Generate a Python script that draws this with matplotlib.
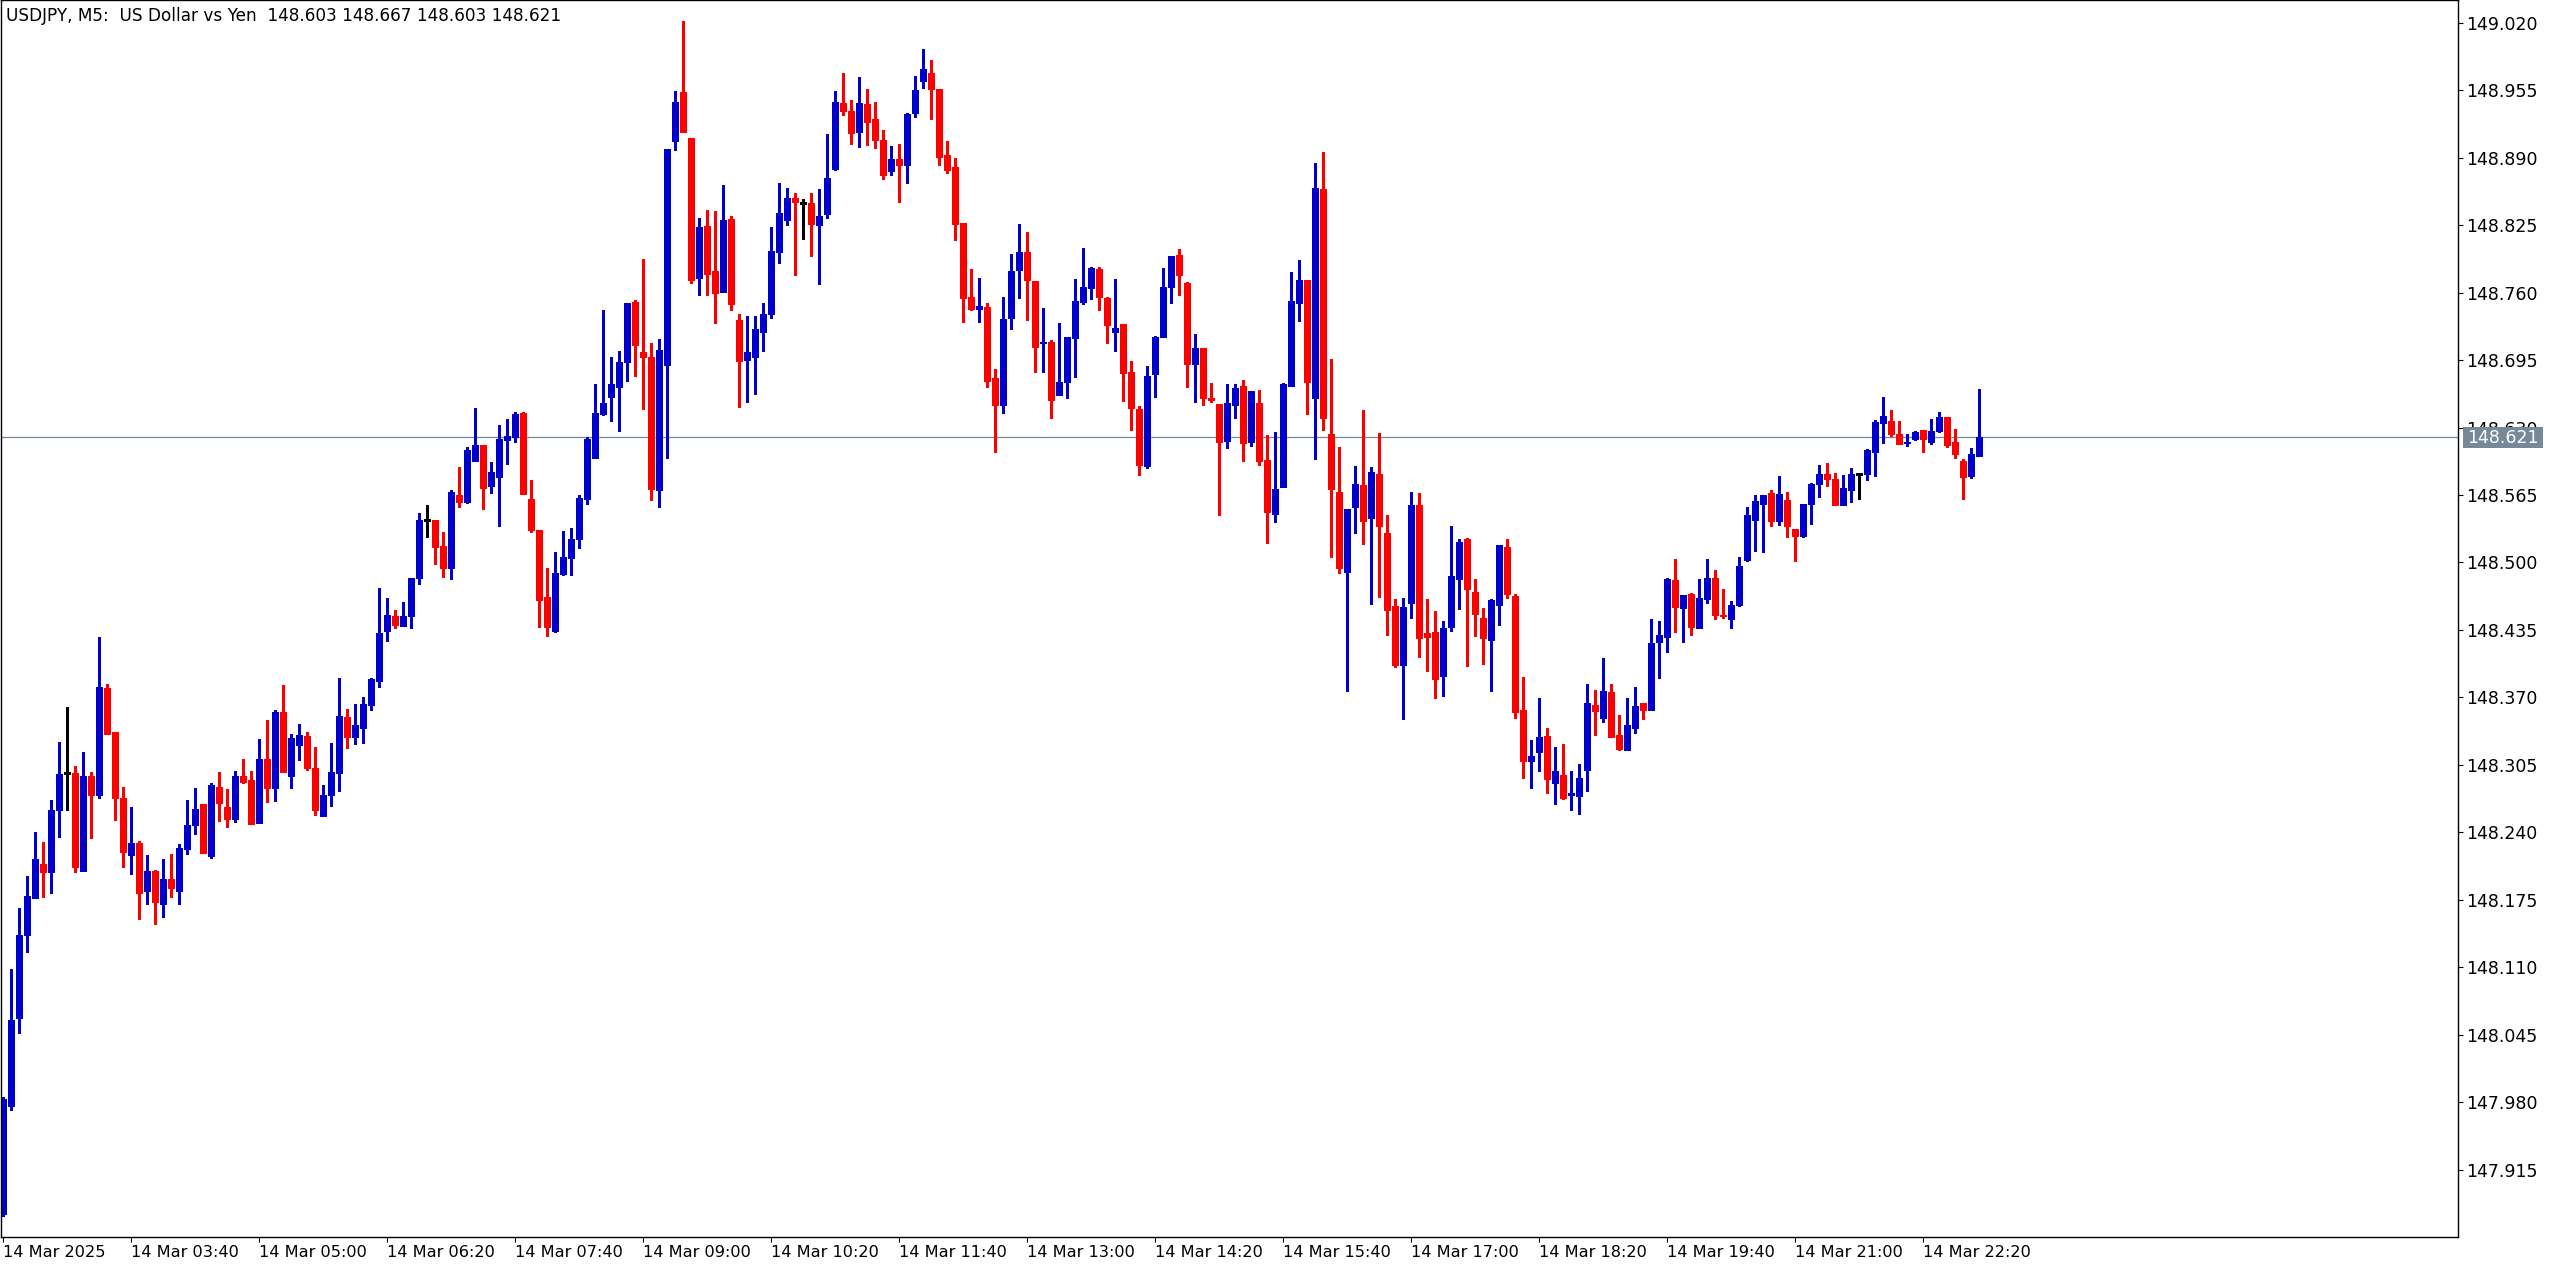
import numpy as np
import matplotlib
matplotlib.use("Agg")
import matplotlib.pyplot as plt
from matplotlib.patches import Rectangle

# USDJPY M5 candles, 14 Mar 2025 02:20 .. 22:55
opens = [
    147.872, 147.976, 148.061, 148.141, 148.177, 148.210, 148.202, 148.262, 148.297, 148.297,
    148.203, 148.294, 148.276, 148.379, 148.337, 148.273, 148.218, 148.230, 148.184, 148.203,
    148.171, 148.195, 148.184, 148.224, 148.247, 148.267, 148.217, 148.284, 148.264, 148.253,
    148.294, 148.290, 148.249, 148.311, 148.283, 148.356, 148.294, 148.324, 148.333, 148.302,
    148.256, 148.276, 148.297, 148.351, 148.332, 148.341, 148.363, 148.386, 148.434, 148.448,
    148.439, 148.448, 148.485, 148.541, 148.541, 148.516, 148.495, 148.565, 148.558, 148.598,
    148.613, 148.574, 148.582, 148.618, 148.621, 148.644, 148.561, 148.531, 148.467, 148.434,
    148.489, 148.504, 148.523, 148.561, 148.601, 148.643, 148.659, 148.669, 148.693, 148.751,
    148.703, 148.698, 148.570, 148.690, 148.906, 148.953, 148.909, 148.774, 148.824, 148.781,
    148.761, 148.831, 148.734, 148.695, 148.698, 148.722, 148.739, 148.799, 148.830, 148.851,
    148.846, 148.846, 148.825, 148.836, 148.879, 148.943, 148.935, 148.915, 148.942, 148.927,
    148.907, 148.877, 148.889, 148.883, 148.933, 148.964, 148.972, 148.956, 148.893, 148.881,
    148.827, 148.756, 148.744, 148.746, 148.678, 148.652, 148.736, 148.782, 148.799, 148.771,
    148.711, 148.712, 148.661, 148.674, 148.716, 148.751, 148.764, 148.783, 148.755, 148.722,
    148.730, 148.684, 148.648, 148.593, 148.682, 148.717, 148.765, 148.796, 148.769, 148.691,
    148.707, 148.658, 148.653, 148.617, 148.652, 148.670, 148.616, 148.654, 148.599, 148.547,
    148.573, 148.670, 148.750, 148.772, 148.658, 148.860, 148.624, 148.568, 148.491, 148.553,
    148.575, 148.543, 148.585, 148.528, 148.458, 148.401, 148.461, 148.555, 148.432, 148.433,
    148.391, 148.438, 148.484, 148.523, 148.472, 148.447, 148.425, 148.459, 148.515, 148.468,
    148.358, 148.309, 148.317, 148.333, 148.288, 148.295, 148.276, 148.275, 148.300, 148.363,
    148.350, 148.375, 148.334, 148.319, 148.341, 148.365, 148.358, 148.423, 148.428, 148.483,
    148.456, 148.470, 148.437, 148.465, 148.485, 148.449, 148.446, 148.459, 148.502, 148.541,
    148.556, 148.567, 148.540, 148.560, 148.532, 148.526, 148.556, 148.576, 148.585, 148.580,
    148.555, 148.570, 148.585, 148.585, 148.606, 148.634, 148.636, 148.624, 148.615, 148.619,
    148.628, 148.616, 148.627, 148.640, 148.616, 148.598, 148.583, 148.603,
]
highs = [
    147.985, 148.108, 148.167, 148.198, 148.240, 148.231, 148.271, 148.327, 148.361, 148.304,
    148.317, 148.298, 148.428, 148.383, 148.337, 148.284, 148.264, 148.232, 148.218, 148.204,
    148.214, 148.219, 148.229, 148.271, 148.283, 148.267, 148.288, 148.298, 148.282, 148.299,
    148.311, 148.299, 148.330, 148.348, 148.358, 148.382, 148.335, 148.344, 148.337, 148.322,
    148.286, 148.326, 148.389, 148.359, 148.364, 148.370, 148.389, 148.475, 148.466, 148.454,
    148.462, 148.485, 148.548, 148.555, 148.541, 148.529, 148.570, 148.592, 148.611, 148.649,
    148.613, 148.597, 148.632, 148.638, 148.645, 148.645, 148.579, 148.531, 148.495, 148.510,
    148.530, 148.533, 148.565, 148.621, 148.672, 148.743, 148.698, 148.704, 148.750, 148.753,
    148.792, 148.711, 148.715, 148.898, 148.954, 149.022, 148.909, 148.832, 148.840, 148.839,
    148.864, 148.834, 148.739, 148.737, 148.737, 148.750, 148.823, 148.866, 148.861, 148.856,
    148.850, 148.856, 148.860, 148.913, 148.954, 148.972, 148.946, 148.968, 148.956, 148.944,
    148.917, 148.901, 148.903, 148.933, 148.969, 148.995, 148.984, 148.956, 148.906, 148.890,
    148.827, 148.783, 148.774, 148.750, 148.686, 148.756, 148.797, 148.826, 148.818, 148.771,
    148.745, 148.714, 148.731, 148.717, 148.773, 148.803, 148.785, 148.785, 148.756, 148.773,
    148.730, 148.694, 148.651, 148.689, 148.718, 148.784, 148.795, 148.802, 148.770, 148.720,
    148.707, 148.673, 148.653, 148.672, 148.672, 148.676, 148.665, 148.666, 148.623, 148.626,
    148.673, 148.780, 148.791, 148.772, 148.885, 148.895, 148.696, 148.611, 148.552, 148.593,
    148.647, 148.592, 148.625, 148.546, 148.465, 148.466, 148.568, 148.567, 148.465, 148.453,
    148.444, 148.535, 148.523, 148.524, 148.484, 148.456, 148.465, 148.517, 148.523, 148.470,
    148.390, 148.329, 148.369, 148.341, 148.322, 148.325, 148.299, 148.306, 148.383, 148.377,
    148.408, 148.383, 148.353, 148.369, 148.380, 148.365, 148.446, 148.444, 148.485, 148.503,
    148.469, 148.471, 148.484, 148.503, 148.493, 148.474, 148.463, 148.505, 148.553, 148.565,
    148.565, 148.570, 148.583, 148.568, 148.532, 148.556, 148.577, 148.594, 148.596, 148.586,
    148.584, 148.591, 148.586, 148.609, 148.637, 148.659, 148.647, 148.636, 148.624, 148.627,
    148.628, 148.638, 148.645, 148.640, 148.629, 148.600, 148.610, 148.667,
]
lows = [
    147.870, 147.973, 148.047, 148.125, 148.177, 148.178, 148.182, 148.236, 148.262, 148.202,
    148.203, 148.235, 148.273, 148.335, 148.252, 148.207, 148.200, 148.157, 148.171, 148.152,
    148.158, 148.178, 148.171, 148.219, 148.238, 148.220, 148.215, 148.251, 148.245, 148.250,
    148.288, 148.248, 148.249, 148.269, 148.270, 148.298, 148.283, 148.310, 148.300, 148.257,
    148.256, 148.265, 148.280, 148.321, 148.325, 148.326, 148.358, 148.380, 148.424, 148.437,
    148.439, 148.437, 148.479, 148.525, 148.499, 148.486, 148.484, 148.553, 148.557, 148.598,
    148.552, 148.567, 148.535, 148.595, 148.616, 148.566, 148.529, 148.438, 148.429, 148.433,
    148.488, 148.488, 148.514, 148.556, 148.601, 148.642, 148.636, 148.627, 148.675, 148.680,
    148.648, 148.560, 148.553, 148.601, 148.897, 148.915, 148.769, 148.758, 148.758, 148.731,
    148.761, 148.743, 148.650, 148.655, 148.662, 148.704, 148.736, 148.789, 148.825, 148.777,
    148.812, 148.795, 148.768, 148.832, 148.878, 148.931, 148.903, 148.900, 148.902, 148.899,
    148.869, 148.873, 148.847, 148.866, 148.929, 148.957, 148.927, 148.883, 148.875, 148.811,
    148.732, 148.743, 148.732, 148.669, 148.606, 148.644, 148.725, 148.755, 148.734, 148.684,
    148.684, 148.639, 148.661, 148.658, 148.679, 148.749, 148.754, 148.743, 148.711, 148.704,
    148.656, 148.628, 148.584, 148.591, 148.659, 148.717, 148.750, 148.758, 148.669, 148.655,
    148.652, 148.655, 148.546, 148.610, 148.639, 148.598, 148.612, 148.594, 148.519, 148.539,
    148.573, 148.670, 148.733, 148.643, 148.600, 148.628, 148.505, 148.490, 148.376, 148.528,
    148.518, 148.460, 148.467, 148.430, 148.399, 148.349, 148.447, 148.409, 148.395, 148.369,
    148.371, 148.434, 148.455, 148.400, 148.429, 148.402, 148.376, 148.440, 148.466, 148.350,
    148.292, 148.283, 148.299, 148.278, 148.267, 148.272, 148.262, 148.258, 148.280, 148.334,
    148.346, 148.332, 148.319, 148.319, 148.336, 148.349, 148.358, 148.389, 148.414, 148.433,
    148.423, 148.430, 148.437, 148.461, 148.446, 148.447, 148.437, 148.458, 148.501, 148.511,
    148.510, 148.535, 148.536, 148.525, 148.501, 148.525, 148.537, 148.563, 148.574, 148.555,
    148.555, 148.558, 148.561, 148.579, 148.583, 148.615, 148.622, 148.614, 148.612, 148.618,
    148.606, 148.614, 148.626, 148.611, 148.601, 148.561, 148.581, 148.603,
]
closes = [
    147.983, 148.059, 148.141, 148.179, 148.214, 148.202, 148.262, 148.296, 148.297, 148.207,
    148.294, 148.276, 148.380, 148.335, 148.273, 148.221, 148.230, 148.182, 148.203, 148.173,
    148.195, 148.186, 148.225, 148.247, 148.263, 148.220, 148.286, 148.268, 148.253, 148.294,
    148.289, 148.248, 148.311, 148.283, 148.356, 148.298, 148.331, 148.334, 148.302, 148.262,
    148.276, 148.298, 148.352, 148.332, 148.343, 148.364, 148.388, 148.432, 148.449, 148.440,
    148.448, 148.485, 148.541, 148.541, 148.515, 148.495, 148.568, 148.558, 148.608, 148.613,
    148.572, 148.587, 148.619, 148.622, 148.643, 148.566, 148.531, 148.464, 148.438, 148.490,
    148.505, 148.523, 148.562, 148.619, 148.644, 148.654, 148.672, 148.693, 148.750, 148.710,
    148.698, 148.571, 148.705, 148.898, 148.944, 148.915, 148.772, 148.823, 148.778, 148.760,
    148.830, 148.749, 148.694, 148.703, 148.725, 148.739, 148.800, 148.837, 148.851, 148.847,
    148.846, 148.826, 148.834, 148.870, 148.944, 148.935, 148.914, 148.943, 148.924, 148.907,
    148.873, 148.889, 148.883, 148.932, 148.955, 148.975, 148.956, 148.891, 148.878, 148.826,
    148.755, 148.744, 148.747, 148.675, 148.652, 148.735, 148.781, 148.799, 148.772, 148.708,
    148.712, 148.657, 148.674, 148.717, 148.752, 148.765, 148.784, 148.756, 148.729, 148.726,
    148.683, 148.649, 148.594, 148.680, 148.717, 148.765, 148.795, 148.777, 148.691, 148.707,
    148.658, 148.657, 148.616, 148.654, 148.668, 148.615, 148.665, 148.598, 148.549, 148.571,
    148.672, 148.752, 148.772, 148.674, 148.861, 148.639, 148.571, 148.495, 148.552, 148.576,
    148.540, 148.587, 148.535, 148.454, 148.401, 148.457, 148.555, 148.427, 148.428, 148.388,
    148.437, 148.487, 148.520, 148.474, 148.450, 148.427, 148.464, 148.517, 148.470, 148.356,
    148.309, 148.314, 148.332, 148.291, 148.299, 148.273, 148.277, 148.292, 148.365, 148.357,
    148.376, 148.332, 148.320, 148.343, 148.362, 148.358, 148.422, 148.430, 148.484, 148.457,
    148.469, 148.438, 148.466, 148.485, 148.449, 148.448, 148.459, 148.497, 148.546, 148.559,
    148.565, 148.540, 148.566, 148.535, 148.526, 148.556, 148.576, 148.585, 148.580, 148.555,
    148.572, 148.585, 148.585, 148.608, 148.635, 148.641, 148.624, 148.614, 148.616, 148.626,
    148.619, 148.627, 148.640, 148.613, 148.605, 148.582, 148.605, 148.621,
]

time_labels = [
    "14 Mar 2025", "14 Mar 03:40", "14 Mar 05:00", "14 Mar 06:20", "14 Mar 07:40",
    "14 Mar 09:00", "14 Mar 10:20", "14 Mar 11:40", "14 Mar 13:00", "14 Mar 14:20",
    "14 Mar 15:40", "14 Mar 17:00", "14 Mar 18:20", "14 Mar 19:40", "14 Mar 21:00",
    "14 Mar 22:20",
]
price_ticks = [
    147.915, 147.980, 148.045, 148.110, 148.175, 148.240, 148.305, 148.370, 148.435,
    148.500, 148.565, 148.630, 148.695, 148.760, 148.825, 148.890, 148.955, 149.020,
]
last_price = 148.621
title = "USDJPY, M5:  US Dollar vs Yen  148.603 148.667 148.603 148.621"

BULL = "#0000CD"
BEAR = "#FF0000"
LINE = "#778899"
W, H = 2556, 1270

fig = plt.figure(figsize=(W / 100, H / 100), dpi=100)
ax = fig.add_axes([1 / W, 33 / H, 2457 / W, 1237 / H])

o = np.array(opens)
hi = np.array(highs)
lo = np.array(lows)
c = np.array(closes)
x = np.arange(len(o))

cols = np.where(c > o, BULL, np.where(c < o, BEAR, "#000000"))
flat = c == o

ax.vlines(x, lo, hi, colors=cols, linewidth=1.0, antialiased=False)
body_h = np.maximum(np.abs(c - o), 0.0015)
ax.bar(x[~flat], body_h[~flat], bottom=np.minimum(o, c)[~flat], width=0.7,
       color=cols[~flat], edgecolor=cols[~flat], linewidth=0.4, antialiased=False)
ax.hlines(o[flat], x[flat] - 0.35, x[flat] + 0.35, colors="black",
          linewidth=1.0, antialiased=False)

ax.axhline(last_price, color=LINE, linewidth=0.9, zorder=0)

ax.set_xlim(-0.25, 306.875)
ax.set_ylim(147.8502, 149.0419)

ax.yaxis.tick_right()
ax.set_yticks(price_ticks)
ax.set_yticklabels([f"{p:.3f}" for p in price_ticks])
ax.tick_params(axis="y", direction="out", length=3.6, width=0.8, pad=2.5, labelsize=12.5)
ax.set_xticks(x[::16])
ax.set_xticklabels(time_labels, ha="left")
ax.tick_params(axis="x", direction="out", length=3.6, width=0.8, pad=2, labelsize=11.6)
for s in ax.spines.values():
    s.set_linewidth(1.0)
    s.set_color("black")

# current price box on the right scale
fig.patches.append(Rectangle((2463 / W, (H - 448) / H), 80 / W, 21 / H,
                             transform=fig.transFigure, facecolor=LINE,
                             edgecolor="none", zorder=5))
fig.text(2503 / W, (H - 437.5) / H, f"{last_price:.3f}", color="white",
         fontsize=12.5, ha="center", va="center", zorder=6)

fig.text(6 / W, (H - 16) / H, title, fontsize=12.2, ha="left", va="center")

fig.savefig("out.png", dpi=100, facecolor="white")
